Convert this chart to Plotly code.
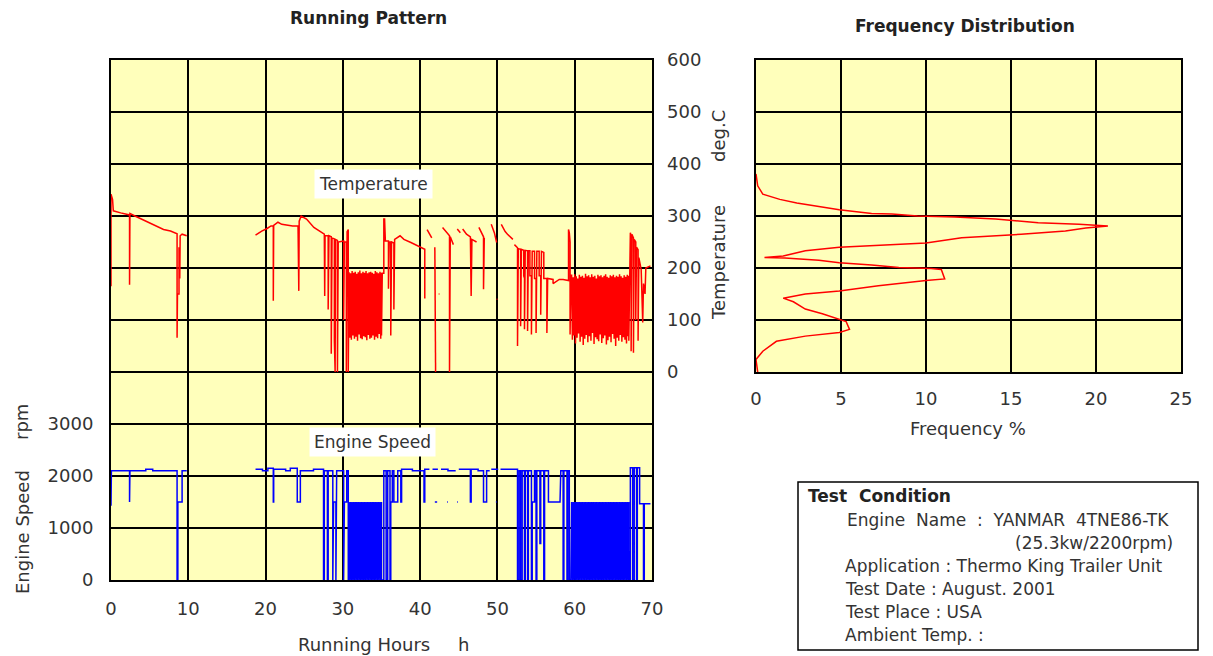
import plotly.graph_objects as go

# Page is 1213x656; the browser's default 8px body margin offsets the figure.
PAGE_W, PAGE_H = 1213, 656
OFF = 8
W, H = PAGE_W - OFF, PAGE_H - OFF

# ---------------- data (hours, deg.C) ----------------
temp_seg1 = [(0, 165), (0, 342), (0.2, 332), (0.3, 310), (1.25, 306), (1.9, 303), (2.4, 302), (2.4, 168),
             (2.45, 305), (3.1, 300), (4.0, 294), (5.4, 284), (6.8, 274), (7.7, 271), (8.4, 267), (8.55, 266),
             (8.55, 66), (8.6, 150), (8.8, 150), (8.8, 240), (8.9, 180), (8.95, 262), (9.2, 265), (9.8, 262)]

temp_seg2 = [(18.7, 263), (19.5, 271), (20.2, 276), (20.7, 281), (21.0, 281), (21.0, 137), (21.05, 282),
             (21.6, 288), (22.1, 284), (23.5, 281), (24.2, 281), (24.3, 156), (24.35, 290), (24.6, 300),
             (25.3, 294), (26.25, 278), (27.2, 268), (27.6, 265), (27.65, 146), (27.7, 262), (28.1, 262),
             (28.1, 120), (28.2, 262), (28.5, 260), (28.5, 35), (28.6, 258), (28.9, 256), (28.9, 60), (29.0, 0),
             (29.05, 255), (29.3, 253), (29.3, 0), (29.4, 250), (30.1, 252), (30.1, 100), (30.2, 250),
             (30.45, 250), (30.45, 0), (30.55, 270), (30.7, 274), (30.7, 0)]

block1_hours = [30.8, 30.9, 31.0, 31.1, 31.2, 31.3, 31.4, 31.5, 31.6, 31.7, 31.8, 31.9, 32.0, 32.1, 32.2,
                32.3, 32.4, 32.5, 32.6, 32.7, 32.8, 32.9, 33.0, 33.1, 33.2, 33.3, 33.4, 33.5, 33.6, 33.7,
                33.8, 33.9, 34.0, 34.1, 34.2, 34.3, 34.4, 34.5, 34.6, 34.7, 34.8, 34.9, 35.0]
block1_temp = [192, 66, 190, 62, 194, 70, 191, 64, 193, 68, 189, 60, 192, 72, 195, 65, 190, 63, 193, 69, 191,
               67, 194, 61, 190, 71, 192, 64, 193, 66, 191, 70, 189, 62, 194, 68, 192, 65, 190, 73, 193, 64, 191]

temp_seg3 = [(35.0, 70), (35.1, 190), (35.3, 190), (35.3, 294), (35.4, 294), (35.5, 252), (35.9, 252),
             (35.9, 160), (36.0, 250), (36.2, 250), (36.2, 70), (36.3, 250), (36.6, 248), (36.6, 120),
             (36.7, 255), (37.4, 262), (37.9, 255), (38.8, 249), (39.7, 242), (40.1, 239), (40.6, 236),
             (40.6, 143), (40.7, 143), None, (40.9, 274), (41.3, 262), (41.5, 258), None, (41.9, 240),
             (42.0, 0), None, (42.4, 150), (42.5, 150), None, (42.9, 278), (43.4, 270), (43.8, 262),
             (43.8, 0), (43.9, 260), (44.3, 245), None, (44.8, 275), (45.2, 268), None, (45.5, 275),
             (46.0, 265), (46.5, 260), (46.6, 146), (46.7, 255), (47.3, 250), None, (47.6, 278), (48.0, 265),
             (48.2, 260), (48.2, 159), (48.3, 258), None, (49.2, 284), (49.6, 268), (49.9, 249), None,
             (49.9, 140), (50.0, 140), None, (50.5, 284), (51.0, 270), (51.3, 265), (52.0, 255), None,
             (52.2, 245), (52.6, 239)]

temp_seg4 = [(52.6, 239), (52.6, 50), (52.7, 237), (53.0, 236), (53.0, 88), (53.1, 236), (53.4, 234),
             (53.4, 185), (53.5, 180), (53.5, 82), (53.6, 234), (53.9, 233), (53.9, 79), (54.0, 233),
             (54.2, 233), (54.2, 185), (54.4, 185), (54.4, 72), (54.5, 232), (54.8, 232), (54.8, 180),
             (55.0, 180), (55.0, 75), (55.1, 232), (55.4, 232), (55.4, 185), (55.6, 185), (55.6, 110),
             (55.7, 232), (56.0, 230), (56.0, 180), (56.4, 180), (56.4, 75), (56.5, 180), (57.2, 178),
             (57.2, 170), (58.0, 178), (58.5, 178), (59.0, 176), (59.2, 176), (59.2, 274), (59.3, 268),
             (59.4, 250), (59.4, 72), (59.5, 186)]

block2_hours = [59.6, 59.7, 59.8, 59.9, 60.0, 60.1, 60.2, 60.3, 60.4, 60.5, 60.6, 60.7, 60.8, 60.9, 61.0,
                61.1, 61.2, 61.3, 61.4, 61.5, 61.6, 61.7, 61.8, 61.9, 62.0, 62.1, 62.2, 62.3, 62.4, 62.5,
                62.6, 62.7, 62.8, 62.9, 63.0, 63.1, 63.2, 63.3, 63.4, 63.5, 63.6, 63.7, 63.8, 63.9, 64.0,
                64.1, 64.2, 64.3, 64.4, 64.5, 64.6, 64.7, 64.8, 64.9, 65.0, 65.1, 65.2, 65.3, 65.4, 65.5,
                65.6, 65.7, 65.8, 65.9, 66.0, 66.1, 66.2, 66.3, 66.4, 66.5, 66.6, 66.7, 66.8, 66.9, 67.0]
block2_temp = [186, 62, 182, 70, 188, 55, 184, 66, 180, 74, 187, 58, 183, 68, 185, 52, 181, 64, 189, 71, 184,
               57, 186, 69, 182, 60, 188, 75, 183, 54, 185, 67, 180, 63, 187, 59, 184, 72, 186, 56, 182, 65,
               185, 70, 188, 53, 183, 61, 181, 68, 186, 57, 184, 73, 187, 64, 182, 50, 185, 66, 183, 60, 188,
               71, 184, 58, 181, 67, 186, 62, 183, 55, 187, 69, 185]

temp_seg5 = [(67.0, 60), (67.1, 190), (67.2, 268), (67.3, 262), (67.3, 40), (67.4, 265), (67.6, 258),
             (67.6, 37), (67.7, 255), (67.9, 250), (67.9, 100), (68.0, 240), (68.2, 235), (68.2, 60),
             (68.3, 220), (68.6, 197), (68.7, 120), (68.8, 95), (68.9, 170), (69.1, 150), (69.2, 200),
             (69.5, 202), (69.8, 204)]

# ---------------- data (hours, rpm) ----------------
speed_seg1 = [(0, 1430), (0.05, 2100), (2.4, 2100), (2.4, 1500), (2.45, 1500), (2.45, 2100), (4.5, 2100),
              (4.5, 2130), (5.4, 2130), (5.4, 2100), (8.55, 2100), (8.55, 0), (8.65, 0), (8.65, 1500),
              (9.2, 1500), (9.2, 2100), (9.8, 2100)]

speed_seg2 = [(18.7, 2130), (19.6, 2130), (19.6, 2100), (20.3, 2100), (20.3, 2150), (21.0, 2150), (21.0, 1500),
              (21.05, 1500), (21.05, 2130), (22.6, 2130), (22.6, 2100), (23.2, 2100), (23.2, 2150),
              (24.1, 2150), (24.1, 1500), (24.5, 1500), (24.5, 2100), (26.2, 2100), (26.2, 2130), (27.5, 2130),
              (27.5, 0), (27.6, 0), (27.6, 2100), (28.0, 2100), (28.0, 0), (28.1, 0), (28.1, 2100), (28.7, 2100),
              (28.7, 0), (28.8, 1500), (29.1, 1500), (29.1, 0), (29.2, 2100), (30.1, 2100), (30.1, 0),
              (30.2, 1500), (30.5, 1500), (30.5, 2100), (30.7, 2100), (30.7, 0)]

block1_speed = [1500, 0, 1500, 0, 1500, 0, 1500, 0, 1500, 0, 1500, 0, 1500, 0, 1500, 0, 1500, 0, 1500, 0, 1500,
                0, 1500, 0, 1500, 0, 1500, 0, 1500, 0, 1500, 0, 1500, 0, 1500, 0, 1500, 0, 1500, 0, 1500, 0, 1500]

speed_seg3 = [(35.0, 0), (35.3, 0), (35.3, 2100), (35.6, 2100), (35.6, 0), (35.8, 0), (35.8, 2100), (36.1, 2100),
              (36.1, 0), (36.2, 0), (36.2, 1500), (36.4, 1500), (36.4, 2100), (36.6, 2100), (36.6, 1500),
              (37.1, 1500), (37.1, 2100), (37.5, 2100), (37.5, 1500), (37.6, 1500), (37.6, 2130), (39.0, 2130),
              (39.0, 2100), (40.5, 2100), (40.5, 1500), (40.6, 1500), (40.6, 2130), (41.2, 2130), None,
              (41.6, 2130), (42.3, 2130), None, (41.9, 1500), (42.2, 1500), None, (43.5, 1500), (43.6, 1500),
              None, (42.7, 2130), (43.6, 2130), (43.6, 2100), (44.6, 2100), None, (44.8, 1500), (44.9, 1500),
              None, (45.0, 2130), (46.5, 2130), (46.5, 1500), (46.6, 1500), (46.6, 2130), (47.5, 2130),
              (47.5, 2100), (48.2, 2100), (48.2, 1500), (48.6, 1500), (48.6, 2100), (49.0, 2100), None,
              (49.2, 2130), (50.1, 2130), None, (49.8, 1500), (49.9, 1500), None, (50.4, 2130), (52.6, 2130)]

speed_seg4 = [(52.6, 2100), (52.6, 0), (52.8, 0), (52.8, 2100), (53.0, 2100), (53.0, 0), (53.2, 0),
              (53.2, 2100), (53.5, 2100), (53.5, 0), (53.6, 0), (53.6, 2100), (53.9, 2100), (53.9, 0), (54.0, 0),
              (54.0, 2100), (54.4, 2100), (54.4, 0), (54.5, 0), (54.5, 1500), (54.8, 1500), (54.8, 2100),
              (55.0, 2100), (55.0, 0), (55.1, 0), (55.1, 2100), (55.5, 2100), (55.5, 700), (55.6, 700),
              (55.6, 2100), (56.0, 2100), (56.0, 0), (56.1, 0), (56.1, 2100), (56.6, 2100), (56.6, 1500),
              (58.1, 1500), (58.2, 2100), (58.5, 2100), (58.5, 0), (58.6, 0), (58.6, 2100), (59.0, 2100),
              (59.0, 0), (59.1, 0), (59.1, 2100), (59.3, 2100), (59.3, 0), (59.5, 0)]

block2_speed = [1500, 0, 1500, 0, 1500, 0, 1500, 0, 1500, 0, 1500, 0, 1500, 0, 1500, 0, 1500, 0, 1500, 0, 1500,
                0, 1500, 0, 1500, 0, 1500, 0, 1500, 0, 1500, 0, 1500, 0, 1500, 0, 1500, 0, 1500, 0, 1500, 0,
                1500, 0, 1500, 0, 1500, 0, 1500, 0, 1500, 0, 1500, 0, 1500, 0, 1500, 0, 1500, 0, 1500, 0, 1500,
                0, 1500, 0, 1500, 0, 1500, 0, 1500, 0, 1500, 0, 1500]

speed_seg5 = [(67.0, 0), (67.0, 540), (67.1, 540), (67.1, 0), (67.2, 0), (67.2, 2160), (67.5, 2160), (67.5, 0),
              (67.7, 0), (67.7, 2160), (68.0, 2160), (68.0, 0), (68.1, 0), (68.1, 2160), (68.4, 2160),
              (68.4, 1465), (68.9, 1465), (68.9, 0), (69.0, 0), (69.0, 1465), (69.8, 1465)]

# ---------------- frequency distribution (%, deg.C) ----------------
freq_pct = [0, 0.1, 0.4, 1.4, 2.4, 3.5, 4.9, 6.8, 8.0, 9.5, 11.7, 14.1, 16.6, 19.0, 20.7, 19.4, 18.2, 15.6,
            12.1, 10.0, 4.9, 2.9, 1.6, 0.5, 1.7, 3.7, 4.9, 6.8, 8.4, 10.3, 10.9, 11.1, 10.0, 7.2, 4.9, 2.9,
            1.6, 2.2, 2.9, 3.9, 4.9, 5.3, 5.5, 4.9, 2.9, 1.2, 0.4, 0, 0.1]
freq_temp = [381, 358, 342, 332, 325, 319, 312, 305, 304, 300, 298, 294, 287, 284, 281, 277, 271, 265,
             258, 248, 240, 233, 223, 220, 219, 215, 210, 206, 201, 199, 197, 179, 176, 166, 156, 150,
             142, 135, 121, 112, 101, 97, 82, 76, 69, 59, 40, 24, 0]

hour_ticks = [0, 10, 20, 30, 40, 50, 60, 70]
rpm_grid = [0, 1000, 2000, 3000, 4000, 5000, 6000, 7000, 8000, 9000, 10000]
rpm_labels = ["0", "1000", "2000", "3000", "", "", "", "", "", "", ""]
temp_ticks = [0, 100, 200, 300, 400, 500, 600]
freq_ticks = [0, 5, 10, 15, 20, 25]

condition_lines = [
    "Engine\u00a0\u00a0Name\u00a0\u00a0:\u00a0\u00a0YANMAR\u00a0\u00a04TNE86-TK",
    "Application : Thermo King Trailer Unit",
    "Test Date : August. 2001",
    "Test Place : USA",
    "Ambient Temp. :",
]


def flatten(*parts):
    xs, ys = [], []
    for part in parts:
        for p in part:
            if p is None:
                xs.append(None)
                ys.append(None)
            else:
                xs.append(p[0])
                ys.append(p[1])
        xs.append(None)
        ys.append(None)
    return xs, ys


def block(hours, values):
    return list(zip(hours, values))


temp_x, temp_y = flatten(temp_seg1, temp_seg2 + block(block1_hours, block1_temp) + temp_seg3 + temp_seg4
                         + block(block2_hours, block2_temp) + temp_seg5)
speed_x, speed_y = flatten(speed_seg1, speed_seg2 + block(block1_hours, block1_speed) + speed_seg3 + speed_seg4
                           + block(block2_hours, block2_speed) + speed_seg5)

FONT = "DejaVu Sans"
TXT = "#333333"


def px(x):
    return (x - OFF) / W


def py(y):
    return 1 - (y - OFF) / H


fig = go.Figure()
fig.add_trace(go.Scatter(x=speed_x, y=speed_y, mode="lines", line=dict(color="#0000FF", width=1.5),
                         xaxis="x", yaxis="y", connectgaps=False, showlegend=False, hoverinfo="skip"))
fig.add_trace(go.Scatter(x=temp_x, y=temp_y, mode="lines", line=dict(color="#FF0000", width=1.5),
                         xaxis="x", yaxis="y2", connectgaps=False, showlegend=False, hoverinfo="skip"))
fig.add_trace(go.Scatter(x=freq_pct, y=freq_temp, mode="lines", line=dict(color="#FF0000", width=1.5),
                         xaxis="x2", yaxis="y3", showlegend=False, hoverinfo="skip"))

grid_common = dict(showgrid=True, gridcolor="black", gridwidth=2, showline=True, mirror=True,
                   linecolor="black", linewidth=2, zeroline=False, ticks="", automargin=False,
                   tickfont=dict(family=FONT, size=18, color=TXT))

fig.update_layout(
    width=W, height=H,
    margin=dict(l=0, r=0, t=0, b=0, pad=0, autoexpand=False),
    paper_bgcolor="white",
    plot_bgcolor="#FFFFBB",
    xaxis=dict(domain=[px(111), px(652)], range=[0, 70], tickvals=hour_ticks, anchor="y",
               ticklabelstandoff=11, **grid_common),
    yaxis=dict(domain=[py(580), py(60)], range=[0, 10000], tickvals=rpm_grid, ticktext=rpm_labels,
               anchor="x", ticklabelstandoff=12, **grid_common),
    yaxis2=dict(overlaying="y", side="right", anchor="x", range=[-400, 600], tickvals=temp_ticks,
                showgrid=False, zeroline=False, showline=False, ticks="", ticklabelstandoff=14,
                automargin=False, tickfont=dict(family=FONT, size=18, color=TXT)),
    xaxis2=dict(domain=[px(756), px(1181)], range=[0, 25], tickvals=freq_ticks, anchor="y3",
                ticklabelstandoff=9, **grid_common),
    yaxis3=dict(domain=[py(372), py(60)], range=[0, 600], tickvals=temp_ticks, anchor="x2",
                showticklabels=False, **{k: v for k, v in grid_common.items() if k != "tickfont"}),
)

ann = []


def add_text(text, x, y, size=18, bold=False, xanchor="center", yanchor="middle", angle=0, bg=None):
    d = dict(text=("<b>%s</b>" % text) if bold else text, x=px(x), y=py(y), xref="paper", yref="paper",
             showarrow=False, xanchor=xanchor, yanchor=yanchor, textangle=angle,
             font=dict(family=FONT, size=size, color="#222222" if bold else TXT))
    if bg:
        d.update(bgcolor=bg, borderpad=4)
    ann.append(d)


add_text("Running Pattern", 368, 18, size=17, bold=True)
add_text("Frequency Distribution", 965, 26, size=17, bold=True)
add_text("Temperature", 374, 184, size=17, bg="white")
add_text("Engine Speed", 372, 442, size=17, bg="white")
add_text("Running Hours", 364, 644)
add_text("h", 463, 644)
add_text("Frequency %", 968, 428)
add_text("Engine Speed", 22, 532, angle=-90)
add_text("rpm", 22, 422, angle=-90)
add_text("Temperature", 718, 263, angle=-90)
add_text("deg.C", 718, 136, angle=-90)

# Test condition box
add_text("Test\u00a0\u00a0Condition", 806, 496, size=17, bold=True, xanchor="left")
add_text(condition_lines[0], 845, 520, size=17, xanchor="left")
add_text("(25.3kw/2200rpm)", 1013, 543, size=17, xanchor="left")
for i, line in enumerate(condition_lines[1:]):
    add_text(line, 843, 566 + 23 * i, size=17, xanchor="left")

fig.update_layout(annotations=ann,
                  shapes=[dict(type="rect", xref="paper", yref="paper", x0=px(798), x1=px(1198),
                               y0=py(650), y1=py(482), line=dict(color="black", width=1.5))])

fig.write_html("out.html")
